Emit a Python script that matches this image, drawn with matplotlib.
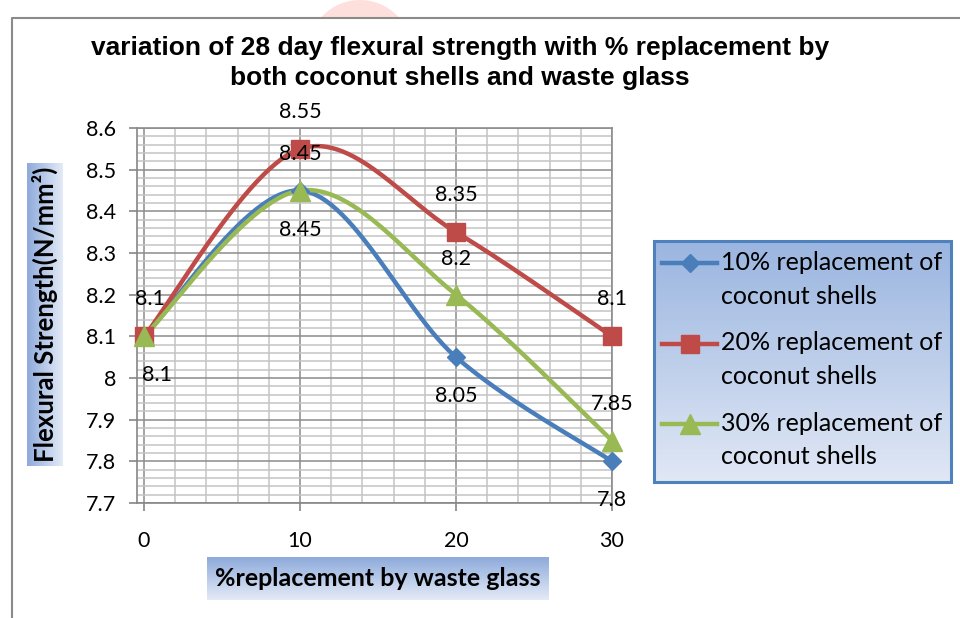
import numpy as np
import matplotlib
matplotlib.use("Agg")
import matplotlib.pyplot as plt
from matplotlib.patches import Rectangle, Ellipse
from matplotlib.lines import Line2D
from matplotlib.legend_handler import HandlerLine2D

# ---------------- data ----------------
x_vals = [0, 10, 20, 30]
s10 = [8.1, 8.45, 8.05, 7.8]
s20 = [8.1, 8.55, 8.35, 8.1]
s30 = [8.1, 8.45, 8.2, 7.85]
series_names = ["10% replacement of\ncoconut shells",
                "20% replacement of\ncoconut shells",
                "30% replacement of\ncoconut shells"]
y_ticks = [7.7, 7.8, 7.9, 8.0, 8.1, 8.2, 8.3, 8.4, 8.5, 8.6]
y_tick_labels = ["7.7", "7.8", "7.9", "8", "8.1", "8.2", "8.3", "8.4", "8.5", "8.6"]
x_ticks = [0, 10, 20, 30]
x_tick_labels = ["0", "10", "20", "30"]
title = "variation of 28 day flexural strength with % replacement by\nboth coconut shells and waste glass"
xlabel = "%replacement by waste glass"
ylabel = "Flexural Strength(N/mm\u00b2)"

W, H = 960, 618
fig = plt.figure(figsize=(W / 100, H / 100), dpi=100)
fig.patch.set_facecolor("white")

def fx(px):
    return px / W

def fy(py):
    return 1 - py / H

TICKFONT = "Lato"
TS = 15.5

# faint pink watermark at top
fig.patches.append(Ellipse((fx(360), fy(52)), fx(104), 104 / H, transform=fig.transFigure,
                           facecolor="#fde0db", edgecolor="none", zorder=-5))
# outer chart frame
fig.patches.append(Rectangle((fx(13), fy(617)), fx(947), (617 - 19) / H, transform=fig.transFigure,
                             facecolor="white", edgecolor="none", zorder=-4))
fig.add_artist(Line2D([fx(12), fx(12), fx(960)], [fy(618), fy(18), fy(18)],
                      transform=fig.transFigure, color="#8a8a8a", lw=1.5))

# --------------- main axes ---------------
ax = fig.add_axes([fx(137), fy(503), fx(612) - fx(137), fy(128) - fy(503)])
ax.set_xlim(-0.45, 30)
ax.set_ylim(7.7, 8.6)
ax.set_xticks(x_ticks)
ax.set_xticklabels(x_tick_labels)
ax.set_yticks(y_ticks)
ax.set_yticklabels(y_tick_labels)
ax.set_xticks(np.arange(0, 31, 2), minor=True)
ax.set_yticks(np.arange(7.7, 8.6001, 0.02), minor=True)
ax.grid(which="minor", color="#c4c4c4", lw=1.1, zorder=0)
ax.grid(which="major", color="#8c8c8c", lw=1.1, zorder=0)
ax.set_axisbelow(True)
ax.tick_params(which="minor", length=0)
ax.tick_params(which="major", length=6, color="#868686", width=1.2, labelsize=TS)
ax.tick_params(axis="x", pad=14)
ax.tick_params(axis="y", pad=9)
for lab in ax.get_xticklabels() + ax.get_yticklabels():
    lab.set_family(TICKFONT)
for s in ax.spines.values():
    s.set_color("#8c8c8c")
    s.set_linewidth(1.2)
ax.spines["left"].set_color("#868686")
ax.spines["bottom"].set_color("#868686")


def excel_smooth(xs, ys, n=60):
    P = np.column_stack([xs, ys]).astype(float)
    out = [P[0]]
    for i in range(len(P) - 1):
        p0 = P[i - 1] if i > 0 else P[i]
        p1 = P[i]
        p2 = P[i + 1]
        p3 = P[i + 2] if i + 2 < len(P) else P[i + 1]
        c1 = p1 + (p2 - p0) / 6
        c2 = p2 - (p3 - p1) / 6
        t = np.linspace(0, 1, n)[1:, None]
        seg = (1 - t) ** 3 * p1 + 3 * (1 - t) ** 2 * t * c1 + 3 * (1 - t) * t ** 2 * c2 + t ** 3 * p2
        out.extend(seg)
    return np.array(out)

colors = ["#4a7ebb", "#be4b48", "#98b954"]
markers = ["D", "s", "^"]
msizes = [9, 13, 14]
series = [s10, s20, s30]
handles = []
for ys, c, m, ms, name in zip(series, colors, markers, msizes, series_names):
    sm = excel_smooth(x_vals, ys)
    ax.plot(sm[:, 0], sm[:, 1], color=c, lw=3.2, zorder=3, solid_capstyle="round", clip_on=False)
    ax.plot(x_vals, ys, linestyle="none", marker=m, ms=ms, color=c, zorder=4, clip_on=False)
    handles.append(Line2D([0], [0], color=c, lw=3.2, marker=m, ms=ms, label=name))

# data labels
lab_kw = dict(textcoords="offset pixels", ha="center", va="center", fontsize=TS,
              family=TICKFONT, color="black", zorder=6, annotation_clip=False)
for xv, yv in zip(x_vals, s20):
    ax.annotate(f"{yv:g}", (xv, yv), xytext=(6 if xv == 0 else 0, 37), **lab_kw)
for xv, yv in zip(x_vals, s30):
    if xv == 0:
        continue  # coincides exactly with the 20% label at x=0
    ax.annotate(f"{yv:g}", (xv, yv), xytext=(0, 36), **lab_kw)
for xv, yv in zip(x_vals, s10):
    ax.annotate(f"{yv:g}", (xv, yv), xytext=(13 if xv == 0 else 0, -39), **lab_kw)

# --------------- title ---------------
fig.text(fx(460), fy(63), title, ha="center", va="center", fontsize=19,
         family="Liberation Sans", weight="bold", linespacing=1.3)

# --------------- gradient label boxes ---------------
def grad_box(x0, y0, x1, y1, direction, c_dark="#8eaadb", c_light="#e4ebf7", z=-1):
    gax = fig.add_axes([fx(x0), fy(y1), fx(x1) - fx(x0), fy(y0) - fy(y1)], zorder=z)
    d = np.array(matplotlib.colors.to_rgb(c_dark))
    l = np.array(matplotlib.colors.to_rgb(c_light))
    t = np.linspace(0, 1, 256)
    grad = d[None, :] * (1 - t[:, None]) + l[None, :] * t[:, None]
    if direction == "h":
        img = grad[None, :, :]
    else:
        img = grad[:, None, :]
    gax.imshow(img, aspect="auto", extent=[0, 1, 0, 1] if direction == "h" else [0, 1, 1, 0])
    gax.set_axis_off()
    return gax

grad_box(27, 163, 62, 466, "h")
fig.text(fx(45), fy(314), ylabel, rotation=90, ha="center", va="center", fontsize=18.5,
         family="Lato", weight="bold", zorder=5)
grad_box(207, 557, 549, 600, "v")
fig.text(fx(378), fy(578), xlabel, ha="center", va="center", fontsize=18,
         family="Lato", weight="bold", zorder=5)

# --------------- legend ---------------
class FirstLineHandler(HandlerLine2D):
    """Place the legend line/marker level with the first text line."""
    def __init__(self, shift, **kw):
        super().__init__(**kw)
        self.shift = shift

    def create_artists(self, legend, orig_handle, xdescent, ydescent, width, height,
                       fontsize, trans):
        arts = super().create_artists(legend, orig_handle, xdescent, ydescent, width,
                                      height, fontsize, trans)
        for a in arts:
            a.set_ydata(np.asarray(a.get_ydata(), dtype=float) + self.shift)
        return arts

lg_ax = grad_box(653, 240, 952, 483, "v", c_dark="#9ab5e0", c_light="#e1e8f5", z=-1)
fig.patches.append(Rectangle((fx(654), fy(482)), fx(951) - fx(654), (482 - 241) / H,
                             transform=fig.transFigure, facecolor="none",
                             edgecolor="#4f81bd", lw=2.2, zorder=5))
leg = ax.legend(handles=handles, loc="upper left", bbox_to_anchor=(fx(662), fy(251)),
                bbox_transform=fig.transFigure, frameon=False, borderaxespad=0,
                prop={"family": "Lato", "size": 18}, handlelength=2.2,
                handletextpad=0.15, labelspacing=0.95, borderpad=0,
                handler_map={Line2D: FirstLineHandler(12.0)})
for t in leg.get_texts():
    t.set_linespacing(1.56)

fig.savefig("out.png", dpi=100)
